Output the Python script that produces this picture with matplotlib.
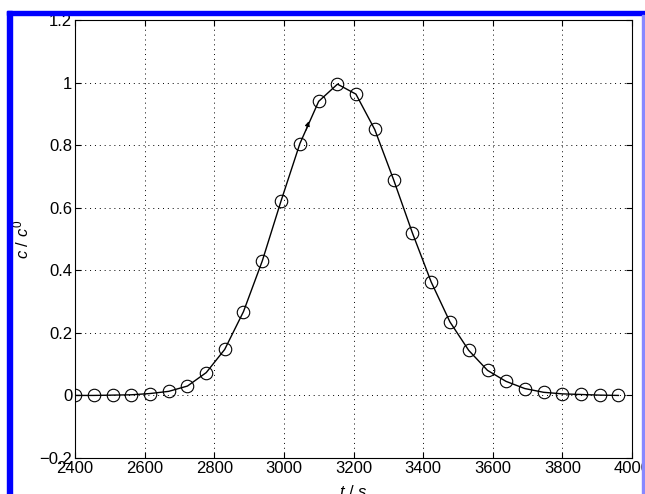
import numpy as np
import matplotlib
matplotlib.use("Agg")
import matplotlib.pyplot as plt
from matplotlib.patches import Rectangle

plt.rcParams['font.family'] = ['Liberation Sans', 'DejaVu Sans']
plt.rcParams['mathtext.fontset'] = 'custom'
plt.rcParams['mathtext.it'] = 'Liberation Sans:italic'
plt.rcParams['mathtext.rm'] = 'Liberation Sans'

# breakthrough data
t_s = [2400, 2454, 2508, 2561, 2615, 2669, 2723, 2777, 2830, 2884,
       2938, 2992, 3046, 3100, 3154, 3207, 3261, 3315, 3369, 3423,
       3477, 3531, 3585, 3638, 3692, 3746, 3800, 3854, 3907, 3961]
c_rel = [0.0, 0.0, 0.001, 0.002, 0.006, 0.013, 0.03, 0.073, 0.147, 0.268,
         0.43, 0.622, 0.805, 0.94, 0.995, 0.963, 0.85, 0.69, 0.52, 0.363,
         0.235, 0.144, 0.08, 0.045, 0.022, 0.01, 0.005, 0.003, 0.001, 0.0]

x_ticks = [2400, 2600, 2800, 3000, 3200, 3400, 3600, 3800, 4000]
y_ticks = [-0.2, 0, 0.2, 0.4, 0.6, 0.8, 1.0, 1.2]
y_labels = ['\u22120.2', '0', '0.2', '0.4', '0.6', '0.8', '1', '1.2']

fig = plt.figure(figsize=(6.45, 4.94), dpi=100)
ax = fig.add_axes([75/645, 1-458/494, (632-75)/645, (458-20)/494])

ax.plot(t_s, c_rel, '-', color='black', lw=1.0)
ax.plot(t_s, c_rel, 'o', mfc='none', mec='black', ms=9, mew=0.8)
ax.annotate('', xy=(3074, 0.885), xytext=(3062, 0.84),
            arrowprops=dict(arrowstyle='-|>', color='black', lw=0.8,
                            mutation_scale=7))

ax.set_xlim(2400, 4000)
ax.set_ylim(-0.2, 1.2)
ax.set_xticks(x_ticks)
ax.set_yticks(y_ticks)
ax.set_yticklabels(y_labels)
ax.tick_params(direction='in', top=True, right=True, labelsize=12,
               length=4, width=0.8, pad=2, colors='black')
ax.grid(True, color='black', ls=(0, (1, 4)), lw=0.7)
for s in ax.spines.values():
    s.set_linewidth(0.8)

ax.set_xlabel('$t$ / $s$', fontsize=12, labelpad=6)
ax.set_ylabel('$c$ / $c^0$', fontsize=12, labelpad=6)

# blue frame remnants of the original screenshot
fig.patches.append(Rectangle((7/645, 0), 5/645, 1-11/494, transform=fig.transFigure,
                             color='#0000ff', zorder=0))
fig.patches.append(Rectangle((7/645, 1-15/494), 1, 4/494, transform=fig.transFigure,
                             color='#0000ff', zorder=0))
fig.patches.append(Rectangle((642/645, 0), 1.5/645, 1-15/494, transform=fig.transFigure,
                             color='#8888ff', zorder=0))

fig.savefig('out.png', dpi=100)
